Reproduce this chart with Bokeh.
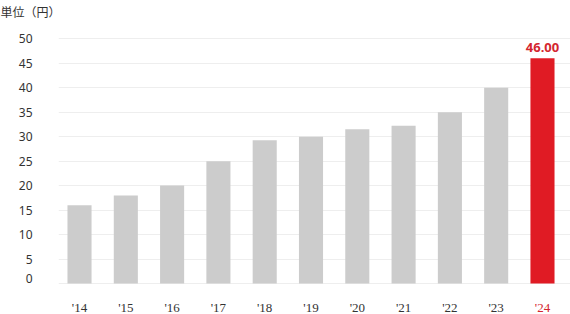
from bokeh.plotting import figure
from bokeh.models import ColumnDataSource, Range1d, FixedTicker, Label, LabelSet, Title
from bokeh.embed import file_html
from bokeh.resources import INLINE

years = ["'14", "'15", "'16", "'17", "'18", "'19", "'20", "'21", "'22", "'23", "'24"]
dividends = [16, 18, 20, 25, 29.25, 30, 31.5, 32.25, 35, 40, 46]
y_ticks = [0, 5, 10, 15, 20, 25, 30, 35, 40, 45, 50]
unit_label = "単位（円）"
highlight_text = "46.00"

GRAY = "#cccccc"
RED = "#e01b24"
RED_TXT = "#d4262f"
FONT_JP = "Noto Sans CJK JP"
FONT = "Noto Sans"

xs = list(range(len(years)))
colors = [GRAY] * (len(years) - 1) + [RED]
label_colors = ["#333333"] * (len(years) - 1) + [RED_TXT]

Y0, Y1 = -6.334, 52.1
X0, X1 = -0.454, 10.605
ZERO_SHIFT = 1.02  # the zero label sits a little above its gridline

src = ColumnDataSource(dict(x=xs, top=dividends, color=colors, label=years,
                            lcolor=label_colors, ybase=[Y0] * len(years)))

p = figure(width=570, height=314, output_backend="svg", toolbar_location=None,
           x_range=Range1d(X0, X1), y_range=Range1d(Y0, Y1),
           x_axis_location=None, min_border_left=58, min_border_right=0,
           min_border_top=28, min_border_bottom=0)
p.outline_line_color = None
p.background_fill_color = "white"
p.border_fill_color = "white"

p.vbar(x="x", top="top", bottom=0, width=0.52, fill_color="color",
       line_color=None, source=src)

label_ticks = [ZERO_SHIFT] + y_ticks[1:]
yax = p.yaxis[0]
yax.ticker = FixedTicker(ticks=label_ticks)
yax.axis_line_color = None
yax.major_tick_line_color = None
yax.minor_tick_line_color = None
yax.major_label_standoff = 20
yax.major_label_text_font = FONT
yax.major_label_text_font_size = "12px"
yax.major_label_text_color = "#333333"
yax.major_label_overrides = {ZERO_SHIFT: "0"}

p.xgrid.visible = False
p.ygrid.ticker = FixedTicker(ticks=y_ticks)
p.ygrid.grid_line_color = "#eeeeee"
p.ygrid.grid_line_width = 1

# x labels
p.add_layout(LabelSet(x="x", y="ybase", text="label", source=src,
                      y_offset=7.3, text_align="center", text_baseline="middle",
                      text_font=FONT, text_font_size="13px", text_color="lcolor"))

# value label on highlighted bar
p.add_layout(Label(x=xs[-1], y=dividends[-1], y_offset=11, text=highlight_text,
                   text_align="center", text_baseline="middle",
                   text_font=FONT, text_font_size="13px", text_font_style="bold",
                   text_color=RED_TXT))

# unit title, lifted by an empty spacer title between it and the frame
p.title.text = unit_label
p.title.align = "left"
p.title.offset = -58
p.title.text_font = FONT_JP
p.title.text_font_size = "12px"
p.title.text_font_style = "normal"
p.title.text_color = "#333333"
p.title.standoff = 0
p.add_layout(Title(text=" ", text_font_size="1px", standoff=6), "above")

open("out.html", "w").write(file_html(p, INLINE))
